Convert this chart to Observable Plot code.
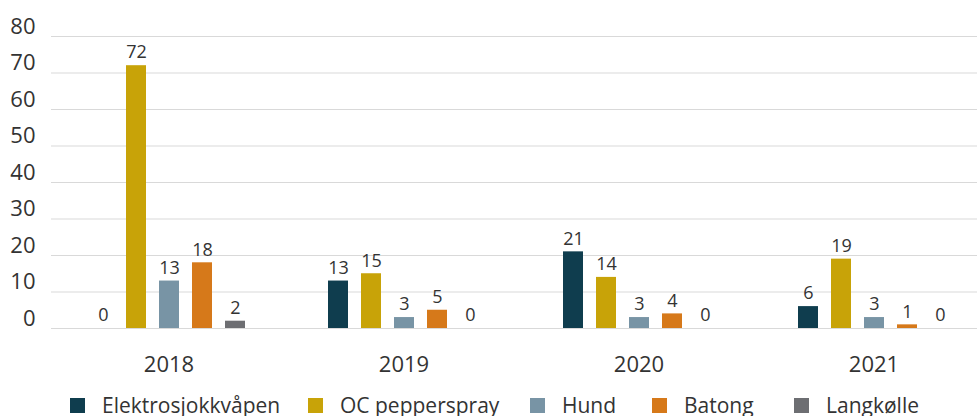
<!DOCTYPE html>
<html>
<head>
<meta charset="utf-8">
<script src="https://cdn.jsdelivr.net/npm/d3@7"></script>
<script src="https://cdn.jsdelivr.net/npm/@observablehq/plot@0.6"></script>
<style>
  html, body { margin: 0; padding: 0; background: #fff; overflow: hidden; }
  body { font-family: "Open Sans", sans-serif; color: #333; width: 977px; }
  #chart svg { max-width: none; display: block; }
  .legend { position: relative; height: 22px; margin-top: 16px; font-size: 21px; line-height: 22px; white-space: nowrap; }
  .legend .item { position: absolute; top: 0; display: flex; align-items: center; }
  .legend .sw { width: 15px; height: 15px; display: inline-block; margin-right: 17px; }
</style>
</head>
<body>
<div id="chart"></div>
<div class="legend" id="legend"></div>
<script>
const years = ["2018", "2019", "2020", "2021"];
const seriesNames = ["Elektrosjokkvåpen", "OC pepperspray", "Hund", "Batong", "Langkølle"];
const elektro = [0, 13, 21, 6];
const oc = [72, 15, 14, 19];
const hund = [13, 3, 3, 3];
const batong = [18, 5, 4, 1];
const langkolle = [2, 0, 0, 0];
const colors = ["#0f3d4e", "#c8a308", "#7894a5", "#d6791a", "#6d6e72"];
const yTicks = [0, 10, 20, 30, 40, 50, 60, 70, 80];

const seriesValues = [elektro, oc, hund, batong, langkolle];
const data = [];
years.forEach((y, i) => {
  seriesNames.forEach((s, j) => data.push({year: y, series: s, value: seriesValues[j][i]}));
});

const chart = Plot.plot({
  width: 991,
  height: 378,
  marginLeft: 51,
  marginRight: 0,
  marginTop: 36,
  marginBottom: 50,
  style: {fontFamily: "Open Sans", color: "#333", background: "white", maxWidth: "none"},
  fx: {domain: years, padding: 0, label: null},
  x: {domain: seriesNames, paddingInner: 0.394, paddingOuter: 1.25, axis: null},
  y: {domain: [0, 80], axis: null},
  color: {domain: seriesNames, range: colors},
  marks: [
    Plot.ruleY(yTicks, {stroke: "#d9d9d9", strokeWidth: 1.2}),
    Plot.barY(data, {fx: "year", x: "series", y: "value", fill: "series"}),
    Plot.text(data, {fx: "year", x: "series", y: "value", text: d => String(d.value), dy: -13, fontSize: 18, fill: "#333"}),
    Plot.axisY(yTicks, {anchor: "left", tickSize: 0, tickPadding: 16, fontSize: 22, dy: -10, fill: "#333", label: null}),
    Plot.axisFx({anchor: "bottom", tickSize: 0, tickPadding: 28, fontSize: 22, fill: "#333", label: null})
  ]
});
document.getElementById("chart").appendChild(chart);

const legendPos = [70, 308, 530, 652, 794];
const legend = document.getElementById("legend");
seriesNames.forEach((s, i) => {
  const item = document.createElement("div");
  item.className = "item";
  item.style.left = legendPos[i] + "px";
  const sw = document.createElement("span");
  sw.className = "sw";
  sw.style.background = colors[i];
  item.appendChild(sw);
  const t = document.createElement("span");
  t.textContent = s;
  item.appendChild(t);
  legend.appendChild(item);
});
</script>
</body>
</html>
